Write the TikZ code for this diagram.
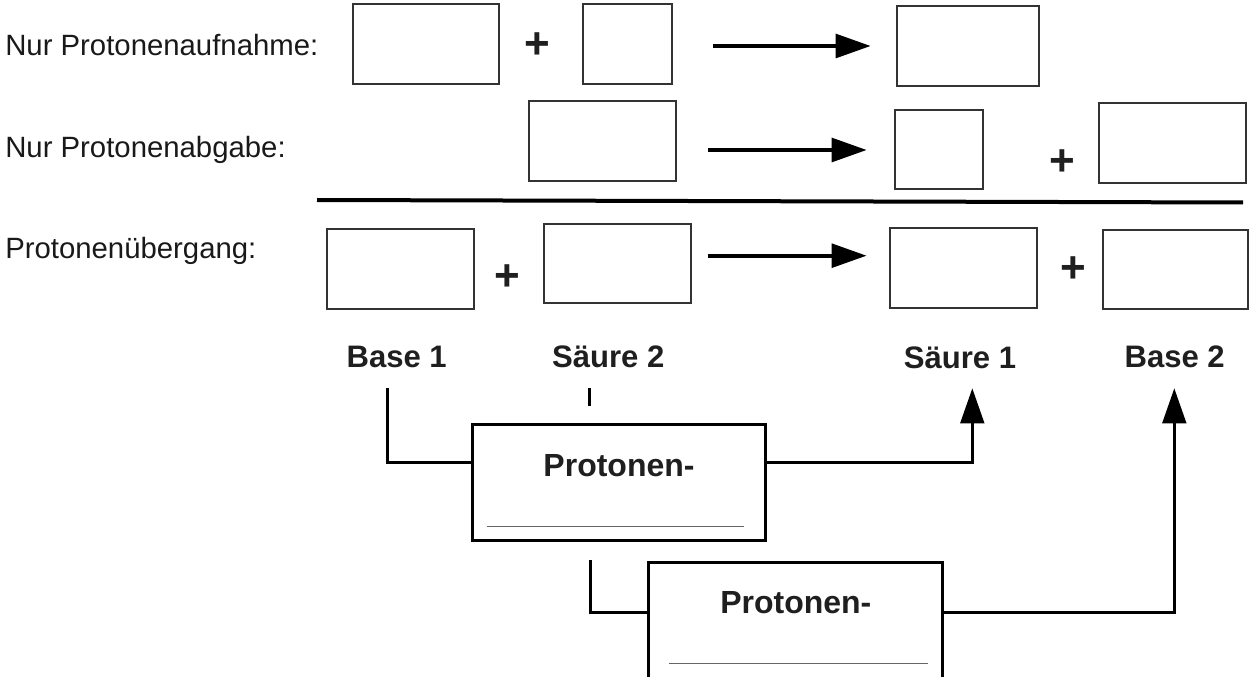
\documentclass[tikz,border=0pt]{standalone}
\usepackage{fontspec}
\setmainfont{Liberation Sans}
\usetikzlibrary{arrows.meta,fit}
\begin{document}
\begin{tikzpicture}[x=0.75pt,y=-0.75pt,
  ebox/.style={draw=black!80,line width=0.8pt,inner sep=0pt},
  rowlab/.style={anchor=base west,inner sep=0pt,font=\fontsize{22}{26}\selectfont,text=black!90},
  lab/.style={anchor=base,inner sep=0pt,font=\fontsize{23.3}{28}\selectfont\bfseries,text=black!88},
  plab/.style={anchor=base,inner sep=0pt,font=\fontsize{24}{28}\selectfont\bfseries,text=black!88},
  plus/.style={inner sep=0pt,font=\fontsize{33}{36}\selectfont\bfseries,text=black!88},
  pbox/.style={draw=black,line width=2.25pt,inner sep=0pt,minimum width=219.75pt,minimum height=87pt},
  conn/.style={line width=2.25pt,draw=black},
  rarrow/.style={line width=3pt,draw=black,-{Triangle[length=26.25pt,width=17.7pt]}},
  carrow/.style={conn,-{Triangle[length=26.25pt,width=17.7pt]}},
  uline/.style={draw=black!60,line width=0.9pt}]
\useasboundingbox (0,0) rectangle (1250,677);
\clip (0,0) rectangle (1250,677);
% row labels
\node[rowlab] (t1) at (5,56) {Nur Protonenaufnahme:};
\node[rowlab] (t2) at (5,158) {Nur Protonenabgabe:};
\node[rowlab] (t3) at (5,259) {Protonenübergang:};
% row 1
\node[ebox,fit={(353,4) (499,84)}] (a) {};
\node[plus] (pl1) at (537,46) {+};
\node[ebox,fit={(583,4) (672,84)}] (b) {};
\coordinate (r1s) at (712.7,46);
\coordinate (r1e) at (870.7,46);
\draw[rarrow] (r1s) -- (r1e);
\node[ebox,fit={(897,6) (1039,86)}] (c) {};
% row 2
\node[ebox,fit={(529,101) (676,181)}] (d) {};
\coordinate (r2s) at (708,150);
\coordinate (r2e) at (866.7,150);
\draw[rarrow] (r2s) -- (r2e);
\node[ebox,fit={(895,110) (983,189)}] (e) {};
\node[plus] (pl2) at (1062,163) {+};
\node[ebox,fit={(1099,103) (1246,183)}] (f) {};
% divider
\coordinate (hl) at (317,200);
\coordinate (hr) at (1243,202.5);
\draw[line width=3pt] (hl) -- (hr);
% row 3
\node[ebox,fit={(327,229) (474,309)}] (g) {};
\node[plus] (pl3) at (507,278) {+};
\node[ebox,fit={(544,224) (691,303)}] (h) {};
\coordinate (r3s) at (707.7,255.7);
\coordinate (r3e) at (866.6,255.7);
\draw[rarrow] (r3s) -- (r3e);
\node[ebox,fit={(890,228) (1037,308)}] (i) {};
\node[plus] (pl4) at (1073,270) {+};
\node[ebox,fit={(1103,230) (1248,309)}] (j) {};
% labels
\node[lab] (base1) at (396.7,367.7) {Base 1};
\node[lab] (saeure2) at (608.3,367.7) {Säure 2};
\node[lab] (saeure1) at (960,368.3) {Säure 1};
\node[lab] (base2) at (1174.7,368) {Base 2};
% process boxes
\node[pbox] (p1) at (618.7,482) {};
\node[plab] (p1t) at (619,476.7) {Protonen-};
\draw[uline] (486.7,526.7) -- (744.3,526.7);
\node[pbox,minimum width=220.7pt] (p2) at (795.4,620.5) {};
\node[plab] (p2t) at (795.8,613.3) {Protonen-};
\draw[uline] (669.3,663.3) -- (927.7,663.3);
% connectors
\coordinate (l1) at (0,462.5);
\coordinate (l2) at (0,612.5);
\coordinate (b1s) at (387.3,388);
\coordinate (s2a) at (589.5,388);
\coordinate (s2b) at (589.5,406);
\coordinate (p1s) at (590,560);
\coordinate (s1tip) at (972.3,388.3);
\coordinate (b2tip) at (1174.3,388.3);
\draw[conn] (b1s) |- (p1.west |- l1);
\draw[conn] (s2a) -- (s2b);
\draw[carrow] (p1.east |- l1) -| (s1tip);
\draw[conn] (p1s) |- (p2.west |- l2);
\draw[carrow] (p2.east |- l2) -| (b2tip);
\end{tikzpicture}
\end{document}
